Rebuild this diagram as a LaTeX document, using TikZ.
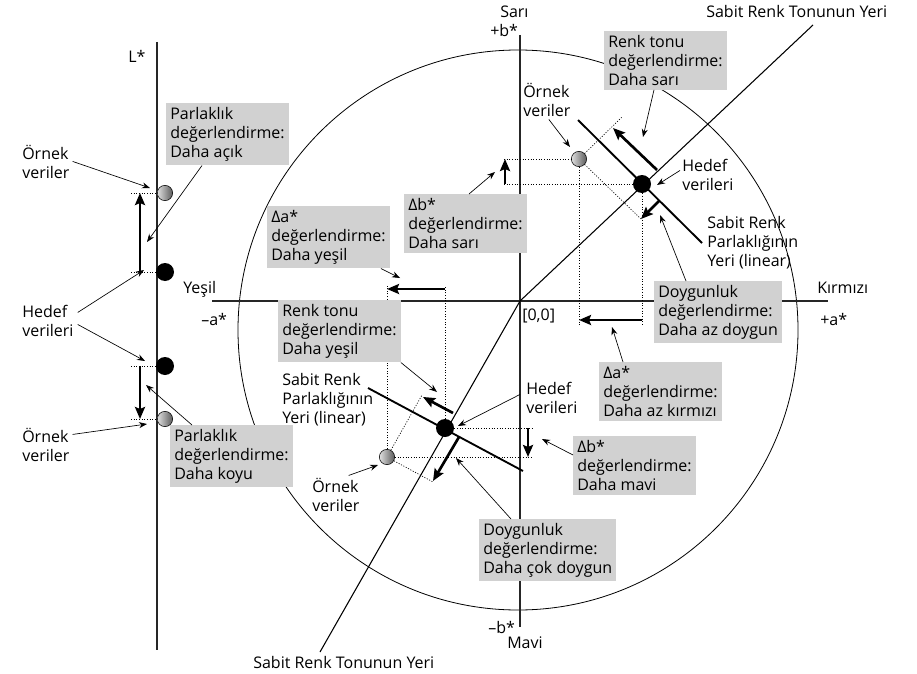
\documentclass[tikz,border=0pt]{standalone}
\usepackage{fontspec}
\setmainfont{Open Sans}
\usetikzlibrary{arrows.meta,calc}

\begin{document}
\begin{tikzpicture}[
	x=0.75pt, y=-0.75pt,
	font=\fontsize{12}{14.25}\selectfont,
	axis/.style={draw=black!85, line width=1.1pt},
	hueline/.style={line width=0.8pt},
	lightline/.style={line width=1.4pt},
	guide/.style={dash pattern=on 0.8pt off 1.2pt, line width=0.5pt},
	pointer/.style={-{Stealth[length=6pt,width=4.5pt]}, line width=0.5pt},
	movearrow/.style={-{Stealth[length=9pt,width=7.5pt,inset=1.5pt]}, line width=2pt},
	evalbox/.style={fill=black!18, align=left, anchor=north west, inner xsep=3pt, inner ysep=3pt},
	lbl/.style={align=left, anchor=base west, inner sep=0pt},
	sampleball/.style={circle, draw=black, line width=0.4pt, left color=black!12, right color=black!65, minimum size=11.5pt, inner sep=0pt},
	targetball/.style={circle, fill=black, minimum size=13.5pt, inner sep=0pt}
]
\useasboundingbox (0,0) rectangle (917,674);

% a*b* plane and L* axis
\coordinate (O) at (520,301);
\coordinate (hueTop) at (813,25);
\coordinate (hueBot) at (320,652);
\draw[line width=0.6pt] (518,330) circle[radius=280];
\draw[axis] (520,35) -- (520,627);
\draw[axis] (212,301) -- (828,301);
\draw[axis] (157,42) -- (157,650);
\draw[hueline] (O) -- (hueTop);
\draw[hueline] (O) -- (hueBot);

% upper pair
\node[targetball] (tU) at (642,184) {};
\node[sampleball] (sU) at (579,159) {};
\draw[guide] (504,159) -- (sU);
\draw[guide] (504,184) -- (tU);
\draw[guide] (sU) -- (579,325);
\draw[guide] (tU) -- (642,325);
\draw[guide] (sU) -- (622,117);
\draw[guide] (sU) -- (641,219);
\draw[lightline] (578,120) -- (702,243);
\draw[movearrow] (505,184) -- (505,159);
\draw[movearrow] (642,320) -- (579,320);
\draw[movearrow] (657,170) -- (613,128);
\draw[movearrow] (659,201) -- (641,219);

% lower pair
\node[targetball] (tD) at (445,428) {};
\node[sampleball] (sD) at (387,457) {};
\draw[guide] (sD) -- (533,457);
\draw[guide] (tD) -- (533,428);
\draw[guide] (sD) -- (387,286);
\draw[guide] (tD) -- (445,286);
\draw[guide] (sD) -- (422,395);
\draw[guide] (sD) -- (433,482);
\draw[lightline] (368,388) -- (523,471);
\draw[movearrow] (528,428) -- (528,457);
\draw[movearrow] (445,289) -- (387,289);
\draw[movearrow] (453,413) -- (423,397);
\draw[movearrow] (459,437) -- (433,481);

% L* pairs
\node[sampleball] (sL1) at (165,193) {};
\node[targetball] (tL1) at (165,272) {};
\node[targetball] (tL2) at (165,366) {};
\node[sampleball] (sL2) at (165,419) {};
\draw[guide] (131,193) -- (sL1);
\draw[guide] (131,272) -- (tL1);
\draw[guide] (131,366) -- (tL2);
\draw[guide] (131,419) -- (sL2);
\draw[movearrow] (140,272) -- (140,193);
\draw[movearrow] (140,366) -- (140,419);

% evaluation boxes
\node[evalbox] (bLightA) at (166,103) {Parlaklık\\değerlendirme:\\Daha açık};
\node[evalbox] (bLightB) at (170,425) {Parlaklık\\değerlendirme:\\Daha koyu};
\node[evalbox] (bHueY) at (604,31) {Renk tonu\\değerlendirme:\\Daha sarı};
\node[evalbox] (bDbY) at (404,194) {Δb*\\değerlendirme:\\Daha sarı};
\node[evalbox] (bDaG) at (267,206) {Δa*\\değerlendirme:\\Daha yeşil};
\node[evalbox] (bHueG) at (278,300) {Renk tonu\\değerlendirme:\\Daha yeşil};
\node[evalbox] (bSatLess) at (654,281) {Doygunluk\\değerlendirme:\\Daha az doygun};
\node[evalbox] (bDaR) at (599,362) {Δa*\\değerlendirme:\\Daha az kırmızı};
\node[evalbox] (bDbB) at (573,436) {Δb*\\değerlendirme:\\Daha mavi};
\node[evalbox] (bSatMore) at (479,519) {Doygunluk\\değerlendirme:\\Daha çok doygun};

% axis and data labels (base = last line)
\node[lbl] (lblL) at (128,63) {L*};
\node[lbl] (lblSari) at (500,18) {Sarı};
\node[lbl] (lblPlusB) at (490,37) {+b*};
\node[lbl] (lblYesil) at (183,293) {Yeşil};
\node[lbl] (lblMinusA) at (201,325) {–a*};
\node[lbl] (lblKirmizi) at (817,293) {Kırmızı};
\node[lbl] (lblPlusA) at (820,325) {+a*};
\node[lbl] (lblOrigin) at (522,320) {[0,0]};
\node[lbl] (lblMinusB) at (488,633) {–b*};
\node[lbl] (lblMavi) at (507,648) {Mavi};
\node[lbl] (lblHueTop) at (706,18) {Sabit Renk Tonunun Yeri};
\node[lbl] (lblHueBot) at (253,668) {Sabit Renk Tonunun Yeri};
\node[lbl] (lblSampleL1) at (22,178) {Örnek\\veriler};
\node[lbl] (lblTargetL) at (22,336) {Hedef\\verileri};
\node[lbl] (lblSampleL2) at (22,461) {Örnek\\veriler};
\node[lbl] (lblSampleU) at (523,117) {Örnek\\veriler};
\node[lbl] (lblTargetU) at (682,190) {Hedef\\verileri};
\node[lbl] (lblLightU) at (707,266) {Sabit Renk\\Parlaklığının\\Yeri (linear)};
\node[lbl] (lblLightD) at (282,423) {Sabit Renk\\Parlaklığının\\Yeri (linear)};
\node[lbl] (lblTargetD) at (526,413) {Hedef\\verileri};
\node[lbl] (lblSampleD) at (312,511) {Örnek\\veriler};

% pointer ends
\coordinate (pSL1) at (150,188);
\coordinate (pTL1) at (144,270);
\coordinate (pTL2) at (145,361);
\coordinate (pSL2) at (147,424);
\coordinate (pLightA) at (147,242);
\coordinate (pLightB) at (146,385);
\coordinate (pHueY) at (643,137);
\coordinate (pDbY) at (495,172);
\coordinate (pDaG) at (400,278);
\coordinate (pHueG) at (437,392);
\coordinate (pSatLess) at (660,215);
\coordinate (pDaR) at (612,327);
\coordinate (pDbB) at (542,439);
\coordinate (pSatMore) at (456,458);
\coordinate (pSU) at (570,147);
\coordinate (pTU) at (657,185);
\coordinate (pTD) at (458,426);
\coordinate (pSD) at (378,465);

\draw[pointer] ($(lblSampleL1.east)+(3,0)$) -- (pSL1);
\draw[pointer] ($(lblTargetL.east)+(4,-8)$) -- (pTL1);
\draw[pointer] ($(lblTargetL.east)+(4,4)$) -- (pTL2);
\draw[pointer] ($(lblSampleL2.east)+(3,-10)$) -- (pSL2);
\draw[pointer] ($(bLightA.south west)+(36,0)$) -- (pLightA);
\draw[pointer] ($(bLightB.north west)+(22,0)$) -- (pLightB);
\draw[pointer] ($(bHueY.south west)+(50,0)$) -- (pHueY);
\draw[pointer] ($(bDbY.north west)+(65,0)$) -- (pDbY);
\draw[pointer] ($(bDaG.south east)+(-9,0)$) -- (pDaG);
\draw[pointer] (bHueG.south east) -- (pHueG);
\draw[pointer] ($(bSatLess.north west)+(32,0)$) -- (pSatLess);
\draw[pointer] ($(bDaR.north west)+(24,0)$) -- (pDaR);
\draw[pointer] ($(bDbB.north west)+(0,19)$) -- (pDbB);
\draw[pointer] ($(bSatMore.north west)+(32,0)$) -- (pSatMore);
\draw[pointer] ($(lblSampleU.south)+(2,2)$) -- (pSU);
\draw[pointer] ($(lblTargetU.west)+(-2,-4)$) -- (pTU);
\draw[pointer] ($(lblTargetD.west)+(-6,-3)$) -- (pTD);
\draw[pointer] ($(lblSampleD.north east)+(-11,-2)$) -- (pSD);
\end{tikzpicture}
\end{document}
